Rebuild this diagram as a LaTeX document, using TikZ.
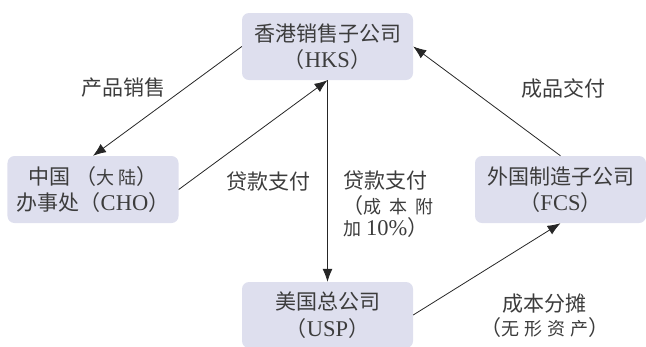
\documentclass[tikz,border=0pt]{standalone}
\usepackage{fontspec}
\setmainfont{Liberation Serif}
\newfontfamily\cjk{Noto Sans CJK SC}
\usetikzlibrary{arrows.meta}
\definecolor{boxfill}{HTML}{DEDFEE}
\definecolor{txt}{HTML}{3C3C3C}
\newcommand{\zl}{{\cjk （}}
\newcommand{\zr}{{\cjk ）}}
\newcommand{\smallcjk}{\fontsize{18bp}{24bp}\selectfont\cjk}
\newcommand{\lat}[1]{{\fontsize{22.5bp}{26bp}\selectfont #1}}
\begin{document}
\begin{tikzpicture}[x=1bp,y=-1bp,
  box/.style={fill=boxfill, rounded corners=7bp, minimum width=171bp, minimum height=67bp,
    inner sep=0pt, align=center, text=txt, font=\fontsize{21bp}{26.5bp}\selectfont},
  conn/.style={draw=black!85, line width=0.8bp, -{Latex[length=13bp,width=10bp]}},
  lbl/.style={text=txt, inner sep=0pt, font=\fontsize{21bp}{26bp}\selectfont}]
\useasboundingbox (0,0) rectangle (646,346);
\node[box] (hks) at (327.5,46.5) {{\cjk 香港销售子公司}\\\zl\lat{HKS}\zr};
\node[box] (cho) at (93,189.5) {{\cjk 中国}\hspace{5bp}{\cjk （}{\smallcjk 大\hspace{4bp}陆}{\cjk ）}\\{\cjk 办事处}\zl\lat{CHO}\zr};
\node[box] (fcs) at (560.5,189.5) {{\cjk 外国制造子公司}\\\zl\lat{FCS}\zr};
\node[box, minimum height=66bp] (usp) at (327.5,315) {{\cjk 美国总公司}\\\zl\lat{USP}\zr};
\draw[conn] (hks.west) -- (cho.north);
\draw[conn] (cho.east) -- (hks.south);
\draw[conn] (hks.south) -- (usp.north);
\draw[conn] (usp.east) -- (fcs.south);
\draw[conn] (fcs.north) -- (hks.east);
\node[lbl] (l1) at (123,88) {\cjk 产品销售};
\node[lbl] (l2) at (268,182) {\cjk 贷款支付};
\node[lbl, anchor=west] (l3a) at (343,181) {\cjk 贷款支付};
\node[lbl, anchor=west] (l3b) at (342,206) {{\cjk （}{\smallcjk 成\hspace{8bp}本\hspace{8bp}附}};
\node[lbl, anchor=west] (l3c) at (343,228) {{\smallcjk 加}\hspace{5bp}\lat{10\%}\zr};
\node[lbl] (l4) at (563,88) {\cjk 成品交付};
\node[lbl] (l5) at (544,304) {\cjk 成本分摊};
\node[lbl] (l6) at (545,328) {{\cjk （}{\smallcjk 无\hspace{5bp}形\hspace{5bp}资\hspace{5bp}产}{\cjk ）}};
\end{tikzpicture}
\end{document}
